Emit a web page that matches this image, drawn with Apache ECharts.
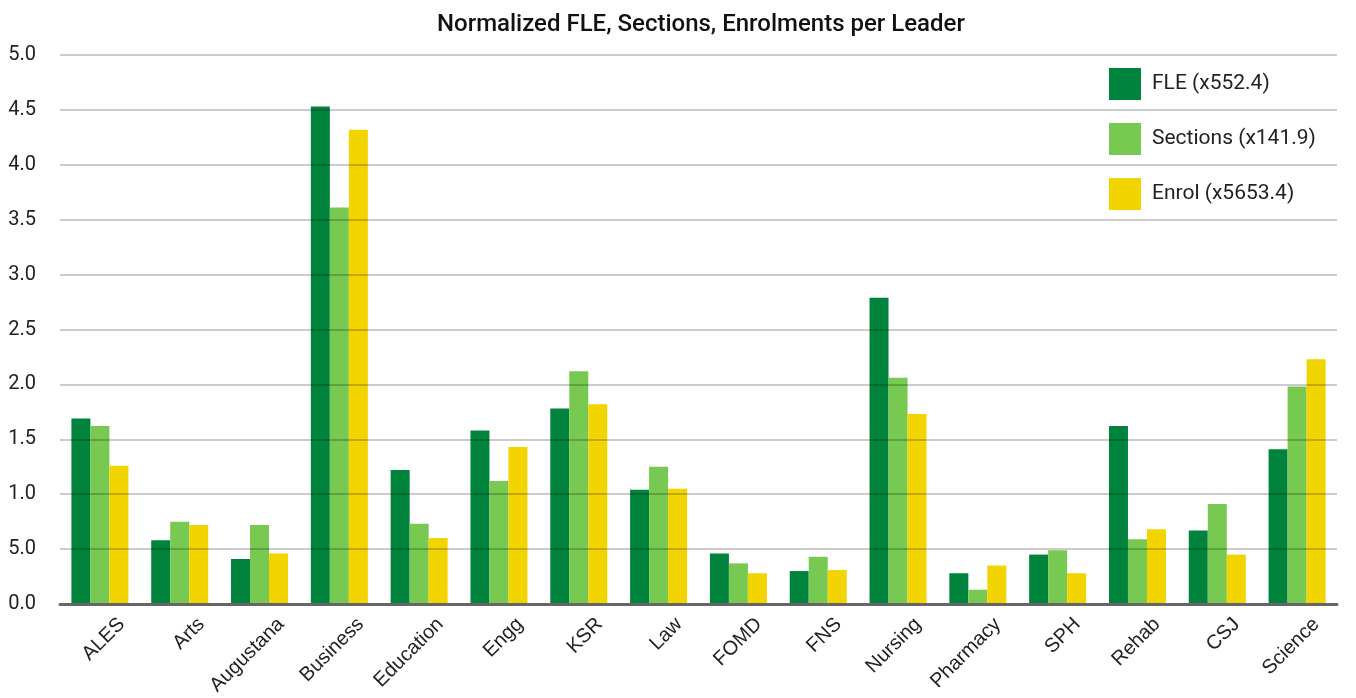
<!DOCTYPE html>
<html>
<head>
<meta charset="utf-8">
<script src="https://cdn.jsdelivr.net/npm/echarts@6/dist/echarts.min.js"></script>
<style>
  html, body { margin: 0; padding: 0; background: #fff; }
  #main { width: 1356px; height: 698px; }
</style>
</head>
<body>
<div id="main"></div>
<script>
var categories = ['ALES', 'Arts', 'Augustana', 'Business', 'Education', 'Engg', 'KSR', 'Law',
    'FOMD', 'FNS', 'Nursing', 'Pharmacy', 'SPH', 'Rehab', 'CSJ', 'Science'];
var fleValues = [1.69, 0.58, 0.41, 4.53, 1.22, 1.58, 1.78, 1.04, 0.46, 0.30, 2.79, 0.28, 0.45, 1.62, 0.67, 1.41];
var sectionValues = [1.62, 0.75, 0.72, 3.61, 0.73, 1.12, 2.12, 1.25, 0.37, 0.43, 2.06, 0.13, 0.49, 0.59, 0.91, 1.98];
var enrolValues = [1.26, 0.72, 0.46, 4.32, 0.60, 1.43, 1.82, 1.05, 0.28, 0.31, 1.73, 0.35, 0.28, 0.68, 0.45, 2.23];
var seriesNames = ['FLE (x552.4)', 'Sections (x141.9)', 'Enrol (x5653.4)'];
// tick labels as printed in the original (second tick reads 5.0)
var yTickLabels = ['0.0', '5.0', '1.0', '1.5', '2.0', '2.5', '3.0', '3.5', '4.0', '4.5', '5.0'];

var colors = ['#00843D', '#78C952', '#F2D400'];
var font = 'Roboto, "Noto Sans", sans-serif';

function barSeries(name, data, color) {
    return {
        name: name,
        type: 'bar',
        data: data,
        barWidth: 19,
        barGap: '0%',
        itemStyle: { color: color },
        z: 1
    };
}

var option = {
    animation: false,
    textStyle: { fontFamily: font },
    title: {
        text: 'Normalized FLE, Sections, Enrolments per Leader',
        left: 432,
        top: 8,
        textStyle: { fontSize: 24, fontWeight: 500, color: '#111', fontFamily: font }
    },
    legend: {
        orient: 'vertical',
        left: 1104,
        top: 63,
        itemWidth: 32,
        itemHeight: 32,
        itemGap: 23,
        icon: 'rect',
        textStyle: { fontSize: 21, color: '#222', padding: [0, 0, 0, 6] },
        data: seriesNames
    },
    grid: [
        { left: 60, right: 19, top: 55, bottom: 94 },
        // same plot shifted right: only carries the slanted category labels
        { left: 82, right: -3, top: 55, bottom: 94 }
    ],
    xAxis: [{
        type: 'category',
        data: categories,
        axisTick: { show: false },
        axisLine: { lineStyle: { color: '#666', width: 3 } },
        axisLabel: { show: false },
        z: 10
    }, {
        type: 'category',
        gridIndex: 1,
        data: categories,
        axisTick: { show: false },
        axisLine: { show: false },
        axisLabel: {
            rotate: 45,
            fontSize: 20,
            fontFamily: '"Liberation Sans", Arial, sans-serif',
            color: '#222',
            margin: 20,
            interval: 0
        }
    }],
    yAxis: [{
        type: 'value',
        min: 0,
        max: 5,
        interval: 0.5,
        axisLine: { show: false },
        axisTick: { show: false },
        axisLabel: {
            fontSize: 20,
            color: '#222',
            margin: 24,
            formatter: function (v) {
                return yTickLabels[Math.round(v / 0.5)];
            }
        },
        splitLine: { lineStyle: { color: 'rgba(0,0,0,0.2)', width: 2 } },
        z: 5
    }, {
        type: 'value',
        gridIndex: 1,
        min: 0,
        max: 5,
        show: false
    }],
    series: [
        barSeries(seriesNames[0], fleValues, colors[0]),
        barSeries(seriesNames[1], sectionValues, colors[1]),
        barSeries(seriesNames[2], enrolValues, colors[2])
    ]
};

var myChart = echarts.init(document.getElementById('main'));
myChart.setOption(option);
</script>
</body>
</html>
